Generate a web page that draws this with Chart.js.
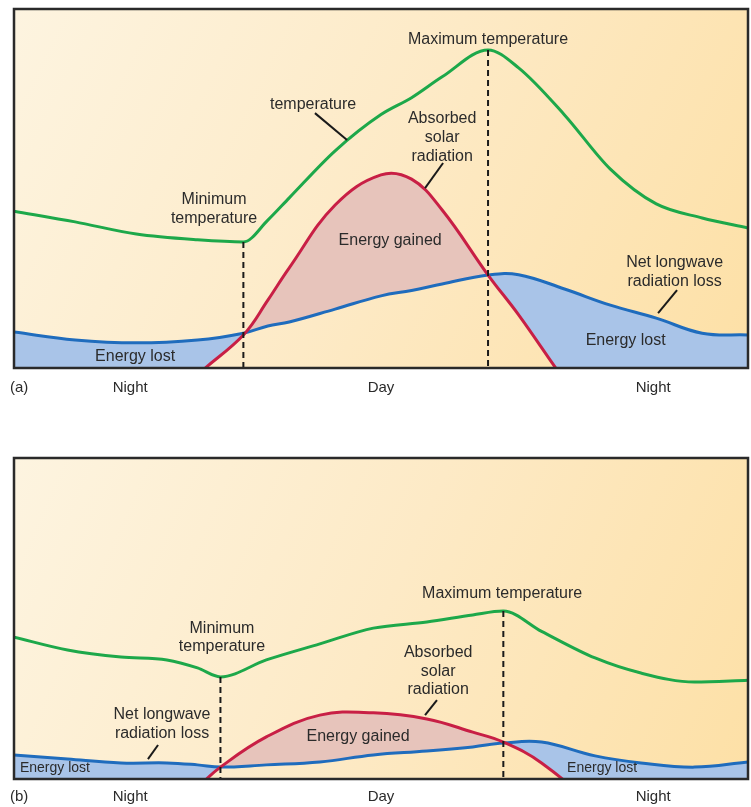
<!DOCTYPE html>
<html>
<head>
<meta charset="utf-8">
<script src="https://cdn.jsdelivr.net/npm/chart.js@4.4.0/dist/chart.umd.min.js"></script>
<style>
  body { margin: 0; background: #fff; }
  .panel { position: absolute; left: 0; width: 751px; }
</style>
</head>
<body>
<div class="panel" style="top:0;height:405px"><canvas id="chartA"></canvas></div>
<div class="panel" style="top:450px;height:357px"><canvas id="chartB"></canvas></div>

<script>
// ---- panel (a): clear day ----
const hoursA = [0, 2, 4, 6, 7.5, 8.3, 9, 10.5, 12, 13, 14, 15.5, 16.5, 18, 19.5, 21, 22.5, 24];
const temperatureA = [43.7, 40.7, 37.3, 35.7, 35.1, 41.2, 47.4, 60.5, 70.6, 75.3, 81.1, 88.6, 83.6, 70.5, 55.4, 45.7, 41.8, 39.0];
const solarA = [-55, -40, -20, -2, 9.2, 18.9, 27.9, 45.4, 53.8, 52.6, 44.0, 25.9, 14.8, -3.4, -20, -35, -50, -60];
const longwaveA = [10.0, 7.8, 7.0, 7.8, 9.7, 11.7, 12.8, 16.4, 20.1, 21.6, 23.4, 25.9, 26.0, 22.0, 17.5, 13.9, 9.7, 9.2];
const minHourA = 7.5;
const maxHourA = 15.5;

// ---- panel (b): cloudy day ----
const hoursB = [0, 1.75, 3.5, 5, 6, 6.75, 8.25, 10, 11.75, 13.5, 15, 16, 17.25, 19, 20.5, 22.25, 24];
const temperatureB = [44.2, 40.2, 38.0, 37.1, 34.6, 31.8, 37.1, 42.1, 47.0, 48.9, 51.1, 52.3, 46.0, 37.7, 33.0, 30.2, 30.8];
const solarB = [-45, -35, -20, -10, -2.5, 3.7, 13.1, 19.9, 20.6, 18.7, 14.6, 11.5, 5.0, -9.3, -25, -40, -50];
const longwaveB = [7.5, 6.2, 5.0, 5.0, 4.4, 3.7, 4.4, 5.3, 7.5, 8.7, 10.0, 11.2, 11.5, 7.2, 5.0, 3.7, 5.3];
const minHourB = 6.75;
const maxHourB = 16;

// bottom labels
const periodLabels = ['Night', 'Day', 'Night'];
const periodHours = [3.8, 12, 20.9];

// annotations (hour, value of block centre)
const notesA = [
  { lines: ['Maximum temperature'], x: 15.5, y: 91.4 },
  { lines: ['temperature'], x: 9.78, y: 73.5 },
  { lines: ['Minimum', 'temperature'], x: 6.54, y: 44.2 },
  { lines: ['Absorbed', 'solar', 'radiation'], x: 14.0, y: 64.3 },
  { lines: ['Energy gained'], x: 12.3, y: 35.4 },
  { lines: ['Net longwave', 'radiation loss'], x: 21.6, y: 26.6 },
  { lines: ['Energy lost'], x: 20.0, y: 7.5 },
  { lines: ['Energy lost'], x: 3.96, y: 3.1 }
];
const leadersA = [[9.84, 71.0, 10.89, 63.5], [14.03, 57.1, 13.44, 50.1], [21.68, 21.7, 21.06, 15.3]];

const notesB = [
  { lines: ['Minimum', 'temperature'], x: 6.8, y: 44.1 },
  { lines: ['Net longwave', 'radiation loss'], x: 4.84, y: 17.1 },
  { lines: ['Energy lost'], x: 1.34, y: 3.4, small: true },
  { lines: ['Energy gained'], x: 11.25, y: 13.1 },
  { lines: ['Maximum temperature'], x: 15.96, y: 57.9 },
  { lines: ['Absorbed', 'solar', 'radiation'], x: 13.87, y: 33.6 },
  { lines: ['Energy lost'], x: 19.23, y: 3.4, small: true }
];
const leadersB = [[4.71, 10.6, 4.38, 6.2], [13.83, 24.6, 13.44, 19.9]];

const FONT = '"Liberation Sans", Arial, sans-serif';
const TEXT = '#2b2b2b';

function pts(hours, vals) {
  return hours.map((h, i) => ({ x: h, y: vals[i] }));
}

function decoPlugin(cfg) {
  return {
    id: 'deco',
    beforeDraw(chart) {
      const { ctx, chartArea: a } = chart;
      const g = ctx.createLinearGradient(a.left, a.top, a.right, a.bottom);
      g.addColorStop(0, '#fdf4e0');
      g.addColorStop(0.5, '#fdeac6');
      g.addColorStop(1, '#fde0a6');
      ctx.save();
      ctx.fillStyle = g;
      ctx.fillRect(a.left, a.top, a.width, a.height);
      ctx.restore();
    },
    afterDatasetsDraw(chart) {
      const { ctx, chartArea: a } = chart;
      const xs = chart.scales.x, ys = chart.scales.y;
      ctx.save();

      // dashed verticals at min / max temperature
      ctx.strokeStyle = '#1a1a1a';
      ctx.lineWidth = 2;
      ctx.setLineDash([6, 4]);
      [cfg.minHour, cfg.maxHour].forEach(h => {
        const i = cfg.hours.indexOf(h);
        const px = xs.getPixelForValue(h);
        ctx.beginPath();
        ctx.moveTo(px, ys.getPixelForValue(cfg.temp[i]));
        ctx.lineTo(px, a.bottom);
        ctx.stroke();
      });
      ctx.setLineDash([]);

      // leader lines
      cfg.leaders.forEach(l => {
        ctx.beginPath();
        ctx.moveTo(xs.getPixelForValue(l[0]), ys.getPixelForValue(l[1]));
        ctx.lineTo(xs.getPixelForValue(l[2]), ys.getPixelForValue(l[3]));
        ctx.stroke();
      });

      // annotation text
      ctx.fillStyle = TEXT;
      ctx.textAlign = 'center';
      ctx.textBaseline = 'middle';
      cfg.notes.forEach(n => {
        ctx.font = (n.small ? '14px ' : '16px ') + FONT;
        const cx = xs.getPixelForValue(n.x);
        const cy = ys.getPixelForValue(n.y);
        const lh = cfg.lineHeight;
        const top = cy - (n.lines.length - 1) * lh / 2;
        n.lines.forEach((t, k) => ctx.fillText(t, cx, top + k * lh));
      });

      // frame
      ctx.strokeStyle = '#2a2a2a';
      ctx.lineWidth = 2.5;
      ctx.strokeRect(a.left, a.top, a.width, a.height);

      // bottom labels
      ctx.font = '15px ' + FONT;
      ctx.fillStyle = TEXT;
      const ly = a.bottom + cfg.labelGap;
      ctx.textAlign = 'left';
      ctx.fillText(cfg.tag, a.left - 4, ly);
      ctx.textAlign = 'center';
      periodLabels.forEach((t, k) => ctx.fillText(t, xs.getPixelForValue(periodHours[k]), ly));
      ctx.restore();
    }
  };
}

function makeChart(id, cfg) {
  const line = { pointRadius: 0, borderWidth: 3, tension: 0.4 };
  return new Chart(document.getElementById(id), {
    type: 'line',
    data: {
      datasets: [
        Object.assign({}, line, {
          label: 'Temperature', data: pts(cfg.hours, cfg.temp), borderColor: '#1da84a', fill: false, order: 0,
          cubicInterpolationMode: 'monotone'
        }),
        Object.assign({ label: 'Absorbed solar radiation', data: pts(cfg.hours, cfg.solar), borderColor: '#c81f45', fill: false, order: 1 }, line),
        Object.assign({
          label: 'Net longwave radiation loss', data: pts(cfg.hours, cfg.longwave), borderColor: '#1f6cbd', order: 2,
          fill: { target: 1, above: '#a9c4e8', below: '#e7c4bb' }
        }, line)
      ]
    },
    options: {
      responsive: true,
      maintainAspectRatio: false,
      animation: false,
      events: [],
      layout: { padding: cfg.padding },
      scales: {
        x: { type: 'linear', min: 0, max: 24, display: false },
        y: { min: 0, max: 100, display: false }
      },
      plugins: { legend: { display: false }, tooltip: { enabled: false } }
    },
    plugins: [decoPlugin(cfg)]
  });
}

makeChart('chartA', {
  hours: hoursA, temp: temperatureA, solar: solarA, longwave: longwaveA,
  minHour: minHourA, maxHour: maxHourA, notes: notesA, leaders: leadersA,
  tag: '(a)', labelGap: 20, lineHeight: 19,
  padding: { left: 14, right: 3, top: 9, bottom: 37 }
});

makeChart('chartB', {
  hours: hoursB, temp: temperatureB, solar: solarB, longwave: longwaveB,
  minHour: minHourB, maxHour: maxHourB, notes: notesB, leaders: leadersB,
  tag: '(b)', labelGap: 18, lineHeight: 18.5,
  padding: { left: 14, right: 3, top: 8, bottom: 28 }
});
</script>
</body>
</html>
